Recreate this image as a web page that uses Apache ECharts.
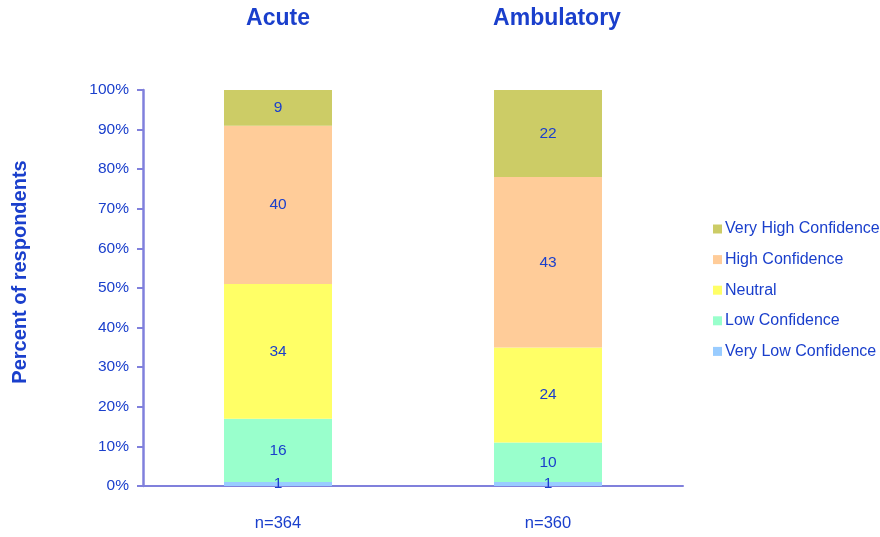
<!DOCTYPE html>
<html>
<head>
<meta charset="utf-8">
<script src="https://cdn.jsdelivr.net/npm/echarts@6/dist/echarts.min.js"></script>
<style>
  html, body { margin: 0; padding: 0; background: #fff; }
  #main { width: 880px; height: 537px; }
</style>
</head>
<body>
<div id="main"></div>
<script>
// data
var categories = ['Acute', 'Ambulatory'];
var sampleSizes = ['n=364', 'n=360'];
var veryLow = [1, 1];
var low = [16, 10];
var neutral = [34, 24];
var high = [40, 43];
var veryHigh = [9, 22];

var blue = '#1a3fcc';
var axisColor = '#8080dc';

var chart = echarts.init(document.getElementById('main'));

function bar(name, data, color) {
    return {
        name: name,
        type: 'bar',
        stack: 'total',
        barWidth: '40%',
        data: data,
        itemStyle: { color: color },
        label: {
            show: true,
            position: 'inside',
            color: blue,
            fontSize: 15.5,
            fontFamily: 'Liberation Sans'
        }
    };
}

var option = {
    backgroundColor: '#fff',
    textStyle: { fontFamily: 'Liberation Sans' },
    grid: { left: 143, right: 197, top: 90, bottom: 51 },
    legend: {
        orient: 'vertical',
        left: 708,
        top: 216,
        itemWidth: 9,
        itemHeight: 9,
        itemGap: 14.6,
        icon: 'rect',
        data: ['Very High Confidence', 'High Confidence', 'Neutral', 'Low Confidence', 'Very Low Confidence'],
        textStyle: { color: blue, fontSize: 16, padding: [0, 0, 0, -2] }
    },
    xAxis: [{
        type: 'category',
        data: categories,
        axisLine: { lineStyle: { color: axisColor, width: 2 } },
        axisTick: { show: false },
        axisLabel: {
            color: blue,
            fontSize: 16.5,
            margin: 29,
            formatter: function (v, i) { return sampleSizes[i]; }
        }
    }, {
        type: 'category',
        position: 'top',
        data: categories.map(function (c, i) {
            return { value: c, textStyle: { padding: [0, 0, 0, i * 18] } };
        }),
        axisLine: { show: false },
        axisTick: { show: false },
        axisLabel: {
            color: blue,
            fontSize: 23,
            fontWeight: 'bold',
            margin: 60
        }
    }],
    yAxis: {
        type: 'value',
        min: 0,
        max: 100,
        interval: 10,
        name: 'Percent of respondents',
        nameLocation: 'middle',
        nameGap: 113,
        nameTextStyle: { color: blue, fontSize: 20, fontWeight: 'bold', padding: [0, 0, 0, 32] },
        axisLine: { show: true, lineStyle: { color: axisColor, width: 2.5 } },
        axisTick: { show: true, length: 6, lineStyle: { color: axisColor, width: 2 } },
        splitLine: { show: false },
        axisLabel: { color: blue, fontSize: 15.5, margin: 14, formatter: '{value}%' }
    },
    series: [
        bar('Very Low Confidence', veryLow, '#99ccff'),
        bar('Low Confidence', low, '#99ffcc'),
        bar('Neutral', neutral, '#ffff66'),
        bar('High Confidence', high, '#ffcc99'),
        bar('Very High Confidence', veryHigh, '#cccc66')
    ]
};
chart.setOption(option);
</script>
</body>
</html>
